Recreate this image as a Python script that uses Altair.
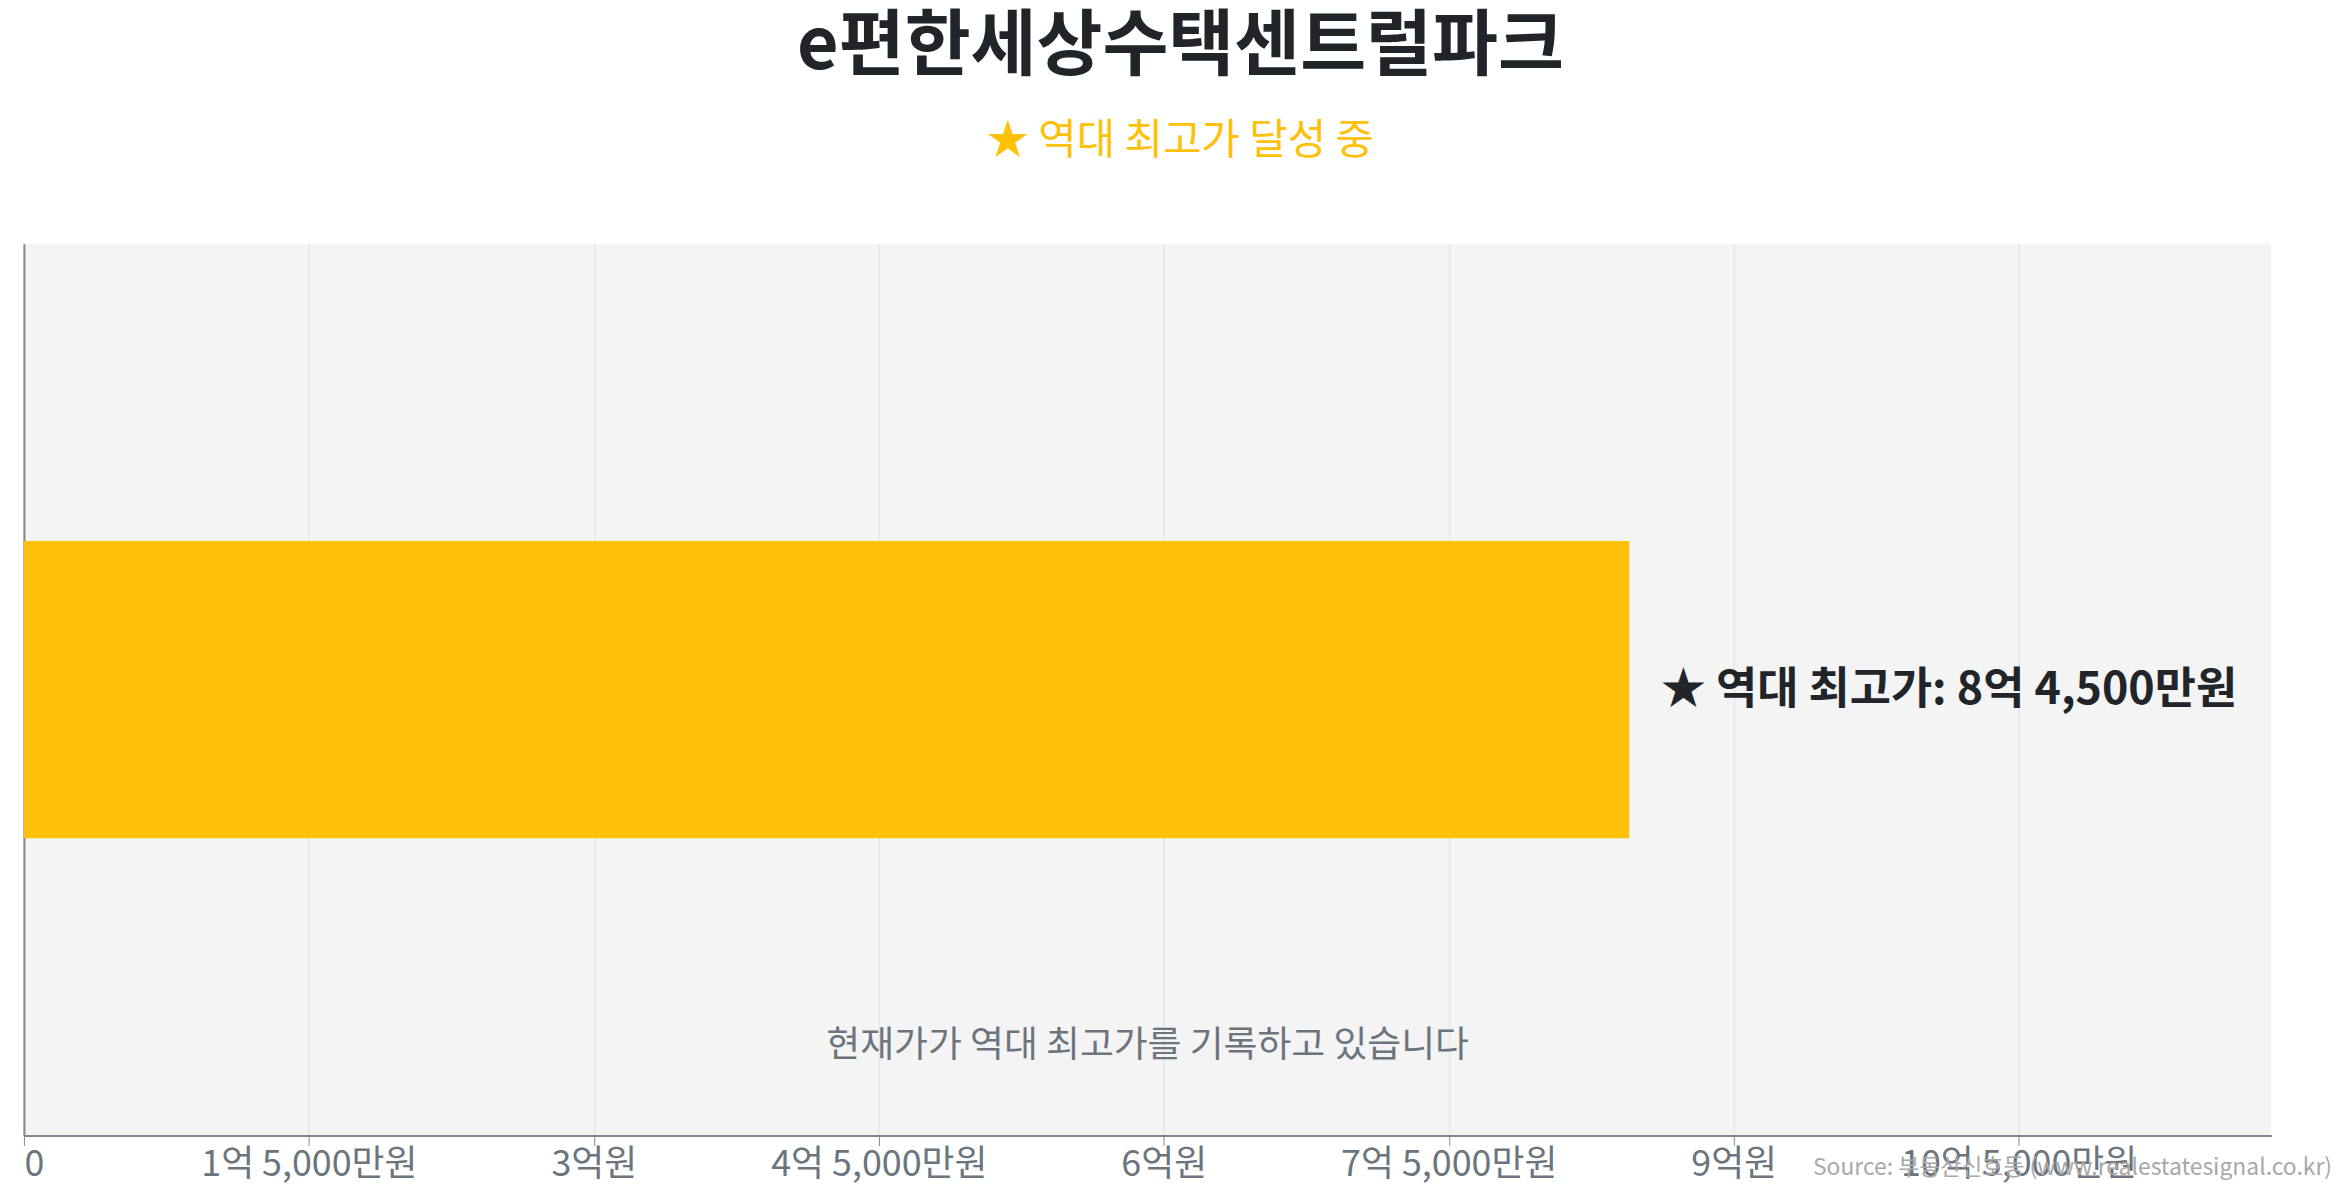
import altair as alt
import pandas as pd

APT_NAME = "e편한세상수택센트럴파크"
SUBTITLE = "★ 역대 최고가 달성 중"
RECORD_PRICE = 845000000
RECORD_LABEL = "★ 역대 최고가: 8억 4,500만원"
NOTE = "현재가가 역대 최고가를 기록하고 있습니다"
SOURCE = "Source: 부동산신호등 (www.realestatesignal.co.kr)"
X_MAX = 1183000000
TICK_VALUES = [0, 150000000, 300000000, 450000000, 600000000, 750000000, 900000000, 1050000000]
TICK_LABELS = ["0", "1억 5,000만원", "3억원", "4억 5,000만원", "6억원", "7억 5,000만원", "9억원", "10억 5,000만원"]

FONT = "Noto Sans CJK KR"
W, H = 2258, 896

df = pd.DataFrame({"name": [APT_NAME], "price": [RECORD_PRICE], "label": [RECORD_LABEL]})

label_expr = "''"
for v, lab in reversed(list(zip(TICK_VALUES, TICK_LABELS))):
    label_expr = f"datum.value == {v} ? '{lab}' : ({label_expr})"

x_enc = alt.X(
    "price:Q",
    scale=alt.Scale(domain=[0, X_MAX], nice=False, zero=True),
    axis=alt.Axis(
        values=TICK_VALUES, labelExpr=label_expr, title=None,
        labelFont=FONT, labelFontSize=36, labelColor="#6c757d", labelPadding=2,
        labelLimit=0, labelOverlap=False,
        domainColor="#7f8690", domainWidth=2, tickColor="#7f8690", tickSize=10,
        gridColor="#e6e6e6", gridWidth=1.5,
    ),
)
y_enc = alt.Y(
    "name:N",
    scale=alt.Scale(paddingInner=0.5, paddingOuter=0.5),
    axis=alt.Axis(labels=False, ticks=False, title=None, grid=False,
                  domainColor="#7f8690", domainWidth=2),
)

base = alt.Chart(df)
bars = base.mark_bar(color="#ffc107").encode(x=x_enc, y=y_enc)
record = base.mark_text(
    align="left", baseline="middle", dx=32, font=FONT, fontSize=45,
    fontWeight="bold", color="#212529",
).encode(x="price:Q", y="name:N", text="label:N")
note = base.mark_text(
    align="center", baseline="middle", font=FONT, fontSize=37, color="#6c757d",
).encode(x=alt.value(W / 2), y=alt.value(H * 0.9), text=alt.value(NOTE))
source = base.mark_text(
    align="right", baseline="middle", font=FONT, fontSize=23, color="#a8a8a8",
).encode(x=alt.value(W + 61), y=alt.value(H + 33), text=alt.value(SOURCE))

chart = alt.layer(bars, record, note, source).properties(
    width=W, height=H,
    padding={"left": 15, "top": 0, "right": 5, "bottom": 5},
    title=alt.TitleParams(
        APT_NAME, subtitle=SUBTITLE, anchor="middle", font=FONT, fontSize=72,
        fontWeight="bold", color="#212529", subtitleFont=FONT, subtitleFontSize=42,
        subtitleColor="#ffc107", subtitlePadding=38, offset=81, dx=33,
    ),
).configure_view(fill="#f4f4f4", stroke=None)

chart.save("out.html", embed_options={"renderer": "svg", "actions": False})
